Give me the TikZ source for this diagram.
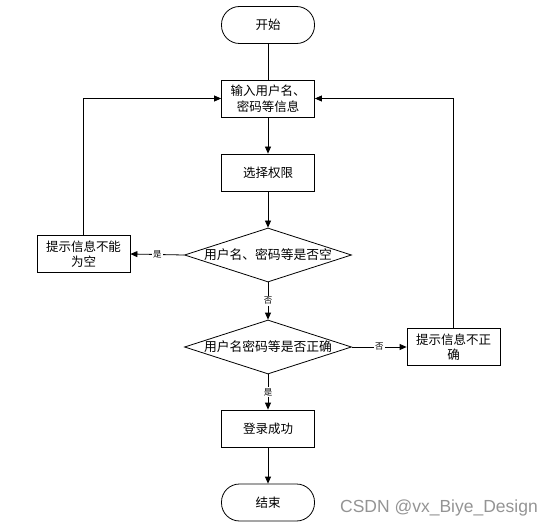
\documentclass[tikz,border=0pt]{standalone}
\usepackage{fontspec}
\newfontfamily\cjk{Noto Sans CJK SC}
\newfontfamily\wmfont{Liberation Sans}
\usetikzlibrary{shapes.geometric,arrows.meta}
\begin{document}
\begin{tikzpicture}[x=1pt,y=-1pt, line width=0.8pt,
 box/.style={draw, minimum width=93pt, minimum height=37pt, inner sep=0pt, font=\cjk\fontsize{12.5}{15.5}\selectfont, align=center},
 term/.style={box, rounded corners=18pt},
 dia/.style={draw, diamond, minimum width=167pt, minimum height=54pt, inner sep=0pt},
 diatext/.style={font=\cjk\fontsize{12.8}{15.5}\selectfont},
 lbl/.style={fill=white, inner sep=1pt, font=\cjk\fontsize{8.5}{9}\selectfont},
 arr/.style={-{Triangle[length=7pt,width=6pt]}}]
\useasboundingbox (0,0) rectangle (558,527);
\node[term] (start) at (268,25) {开始};
\node[box] (input) at (268,98.5) {输入用户名、\\密码等信息};
\node[box] (select) at (268,172.5) {选择权限};
\node[dia, label={[diatext]center:用户名、密码等是否空}] (d1) at (268,255) {};
\node[box] (empty) at (83.5,254) {提示信息不能\\为空};
\node[dia, label={[diatext]center:用户名密码等是否正确}] (d2) at (268,347) {};
\node[box] (wrong) at (453.5,347) {提示信息不正\\确};
\node[box] (ok) at (268,428.5) {登录成功};
\node[term] (end) at (268,502.5) {结束};
\node[text=black!42, font=\wmfont\fontsize{17.5}{20}\selectfont] (wm) at (439,508) {CSDN @vx\_Biye\_Design};

\draw (start) -- (input);
\draw[arr] (input) -- (select);
\draw[arr] (select) -- (d1);
\draw[arr] (d1.west) -- node[lbl] (y1) {是} (empty.east);
\draw[arr] (d1.south) -- node[lbl] (n1) {否} (d2.north);
\draw[arr] (d2.east) -- node[lbl] (n2) {否} (wrong.west);
\draw[arr] (d2.south) -- node[lbl] (y2) {是} (ok.north);
\draw[arr] (ok) -- (end);
\draw[arr] (empty.north) |- (input.west);
\draw[arr] (wrong.north) |- (input.east);
\end{tikzpicture}
\end{document}
